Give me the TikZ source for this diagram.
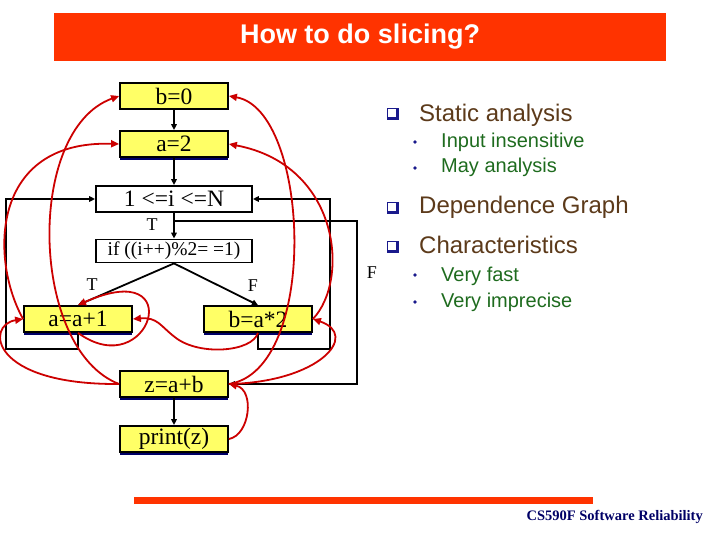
\documentclass[tikz,border=0pt]{standalone}
\usepackage{fontspec}
\setmainfont{Liberation Serif}
\newfontfamily\arialfont{Liberation Sans}
\usetikzlibrary{arrows.meta}
\usetikzlibrary{shadows}
\definecolor{slidered}{HTML}{FF3300}
\definecolor{boxyellow}{HTML}{FFFF66}
\definecolor{boxnavy}{HTML}{000066}
\definecolor{depred}{HTML}{CC0000}
\definecolor{itembrown}{HTML}{5C3A1A}
\definecolor{itemgreen}{HTML}{1E6B1E}
\definecolor{bulletnavy}{HTML}{1A1A8C}

\begin{document}
\begin{tikzpicture}[x=1pt, y=-1pt,
    stmt/.style={draw=black, line width=1.8pt, fill=boxyellow, minimum width=108pt, minimum height=26pt, inner sep=0pt, font=\fontsize{23.5}{23.5}\selectfont},
    navyshadow/.style={drop shadow={shadow xshift=0pt, shadow yshift=-3pt, fill=boxnavy, opacity=1}},
    ctrl/.style={draw=black, line width=1.8pt, fill=white, minimum width=156pt, inner sep=0pt},
    flow/.style={black, line width=1.8pt, -{Triangle[length=6pt,width=5.5pt]}},
    dep/.style={depred, line width=1.8pt, -{Triangle[length=8pt,width=7pt]}},
    lbl/.style={font=\fontsize{18}{18}\selectfont},
    item/.style={anchor=base west, text=itembrown, font=\arialfont\fontsize{24}{24}\selectfont, inner sep=0pt},
    subitem/.style={anchor=base west, text=itemgreen, font=\arialfont\fontsize{20}{20}\selectfont, inner sep=0pt}]
    \useasboundingbox (0,0) rectangle (720,540);

    \node[fill=slidered, minimum width=612pt, minimum height=48pt, inner sep=0pt, text=white, font=\arialfont\bfseries\fontsize{27}{27}\selectfont] (titlebar) at (360,37) {How to do slicing?};

    \node[stmt] (b0) at (174,96) {b=0};
    \node[stmt, navyshadow] (a2) at (174,144) {a=2};
    \node[ctrl, minimum height=26pt, font=\fontsize{23.5}{23.5}\selectfont] (loop) at (174,199) {1 <=i <=N};
    \node[ctrl, minimum height=23pt, font=\fontsize{19.5}{19.5}\selectfont] (cond) at (174,251) {if ((i++)\%2= =1)};
    \node[stmt, navyshadow] (inca) at (78,319) {a=a+1};
    \node[stmt, navyshadow] (dblb) at (258,319) {b=a*2};
    \node[stmt, navyshadow] (sum) at (174,384) {z=a+b};
    \node[stmt, navyshadow] (prt) at (174,439) {print(z)};

    \coordinate (backl) at (6,349);
    \coordinate (backr) at (330,349);
    \coordinate (fork) at (174,221);
    \coordinate (exitr) at (357,221);
    \coordinate (dip) at (176,338);

    \draw[flow] (b0) -- (a2);
    \draw[flow] (a2) -- (loop);
    \draw[flow] (loop) -- (cond);
    \draw[flow] (cond.south) -- (inca.north);
    \draw[flow] (cond.south) -- (dblb.north);
    \draw[flow] (inca.south) |- (backl) |- (loop.west);
    \draw[flow] (dblb.south) |- (backr) |- (loop.east);
    \draw[flow] (fork) -- (exitr) |- (sum.east);
    \draw[flow] (sum) -- (prt);

    \node[lbl] (tloop) at (152,225) {T};
    \node[lbl] (tcond) at (92,285) {T};
    \node[lbl] (fcond) at (253,286) {F};
    \node[lbl] (fexit) at (372,273) {F};

    \draw[dep] (inca.west) .. controls (-10,260) and (-10,140) .. (a2.west);
    \draw[dep] (sum.west) .. controls (30,350) and (25,130) .. (b0.west);
    \draw[dep] (sum.west) .. controls (-10,385) and (-15,325) .. (inca.west);
    \draw[dep] (inca.south) .. controls (150,385) and (190,255) .. (inca.north);
    \draw[dep] (dblb.south) .. controls (252,352) and (200,356) .. (dip) .. controls (160,326) and (158,317) .. (inca.east);
    \draw[dep] (sum.east) .. controls (320,370) and (310,110) .. (b0.east);
    \draw[dep] (dblb.east) .. controls (350,280) and (340,165) .. (a2.east);
    \draw[dep] (sum.east) .. controls (320,382) and (360,335) .. (dblb.east);
    \draw[dep] (prt.east) .. controls (250,435) and (255,390) .. (sum.east);

    \filldraw[bulletnavy] (387,108) rectangle (398,119);
    \filldraw[white] (388.5,109.5) rectangle (395.5,116.5);
    \filldraw[bulletnavy] (387,202) rectangle (398,213);
    \filldraw[white] (388.5,203.5) rectangle (395.5,210.5);
    \filldraw[bulletnavy] (387,241) rectangle (398,252);
    \filldraw[white] (388.5,242.5) rectangle (395.5,249.5);
    \fill[bulletnavy] (415,142) circle (1.8pt);
    \fill[bulletnavy] (415,168) circle (1.8pt);
    \fill[bulletnavy] (415,275) circle (1.8pt);
    \fill[bulletnavy] (415,302) circle (1.8pt);

    \node[item] (static) at (419,121.5) {Static analysis};
    \node[subitem] (insens) at (441,148) {Input insensitive};
    \node[subitem] (mayan) at (441,173) {May analysis};
    \node[item] (depg) at (419,214) {Dependence Graph};
    \node[item] (charac) at (419,253) {Characteristics};
    \node[subitem] (fast) at (441,281) {Very fast};
    \node[subitem] (impre) at (441,307) {Very imprecise};

    \fill[slidered] (134,497) rectangle (593,504);
    \node[anchor=base east, inner sep=0pt, text=boxnavy, font=\bfseries\fontsize{14.5}{14.5}\selectfont] (footer) at (703,520) {CS590F Software Reliability};
\end{tikzpicture}
\end{document}
